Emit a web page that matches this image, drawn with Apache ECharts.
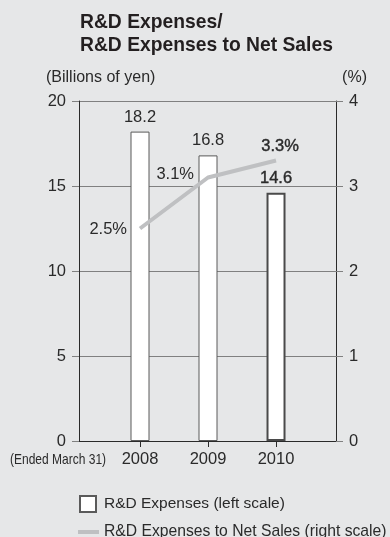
<!DOCTYPE html>
<html>
<head>
<meta charset="utf-8">
<script src="https://cdn.jsdelivr.net/npm/echarts@6/dist/echarts.min.js"></script>
<style>
html,body{margin:0;padding:0;background:#e6e7e8;}
#chart{width:390px;height:537px;}
</style>
</head>
<body>
<div id="chart"></div>
<script>
var years = [2008, 2009, 2010];
var yearLabels = ['2008', '2009', '2010'];
var rdExpenses = [18.2, 16.8, 14.6];
var rdRatio = [2.5, 3.1, 3.3];
var leftTicks = [0, 5, 10, 15, 20];
var rightTicks = [0, 1, 2, 3, 4];

var FONT = '"Liberation Sans", Arial, Helvetica, sans-serif';
var TXT = '#2a2a2a';

var barData = years.map(function (y, i) {
  var item = { value: [y, rdExpenses[i]] };
  if (i === 2) {
    item.itemStyle = { borderWidth: 2, borderColor: '#4a4a4a' };
    item.label = { show: true, textBorderColor: TXT, textBorderWidth: 0.4 };
  }
  return item;
});
var lineLabelPos = [
  { show: true, position: 'left', distance: 13, offset: [0, 1] },
  { show: true, position: 'left', distance: 14, offset: [0, -3] },
  { show: true, position: 'top', distance: 6, offset: [4, 0], textBorderColor: TXT, textBorderWidth: 0.4 }
];
var lineData = years.map(function (y, i) {
  return { value: [y, rdRatio[i]], label: lineLabelPos[i] };
});

var chart = echarts.init(document.getElementById('chart'), null, { renderer: 'canvas' });
chart.setOption({
  backgroundColor: '#e6e7e8',
  animation: false,
  textStyle: { fontFamily: FONT },
  title: {
    text: 'R&D Expenses/\nR&D Expenses to Net Sales',
    left: 80, top: 11, padding: 0,
    textStyle: { fontFamily: FONT, fontSize: 19.3, fontWeight: 'bold', color: '#231f20', lineHeight: 23 }
  },
  graphic: [
    { type: 'text', left: 46, top: 70, style: { text: '(Billions of yen)', font: '16px ' + FONT, fill: TXT } },
    { type: 'text', right: 23, top: 70, style: { text: '(%)', font: '16px ' + FONT, fill: TXT } },
    { type: 'text', x: 10, y: 452, scaleX: 0.8, style: { text: '(Ended March 31)', font: '15px ' + FONT, fill: TXT } }
  ],
  legend: [
    {
      data: [{ name: 'R&D Expenses (left scale)', icon: 'rect' }],
      left: 79, top: 495, padding: 0, itemWidth: 16, itemHeight: 16,
      textStyle: { fontSize: 15.5, color: TXT, padding: [0, 0, 0, 3] },
      selectedMode: false
    },
    {
      data: [{ name: 'R&D Expenses to Net Sales (right scale)', icon: 'rect' }],
      left: 78, top: 524, padding: 0, itemWidth: 21, itemHeight: 4,
      textStyle: { fontSize: 15.7, color: TXT },
      selectedMode: false
    }
  ],
  grid: { left: 79, right: 54, top: 101, bottom: 96, containLabel: false },
  xAxis: {
    type: 'value',
    min: 2007.103, max: 2010.882,
    splitLine: { show: false },
    axisLine: { show: true, lineStyle: { color: '#2a2a2a', width: 1 } },
    axisTick: { show: true, customValues: years, length: 6, lineStyle: { color: '#2a2a2a' } },
    axisLabel: {
      customValues: years, margin: 10,
      fontSize: 16.5, color: TXT,
      formatter: function (v) { return yearLabels[years.indexOf(Math.round(v))] || ''; }
    }
  },
  yAxis: [
    {
      type: 'value', min: 0, max: 20, interval: 5,
      axisLine: { show: true, lineStyle: { color: '#2a2a2a', width: 1 } },
      axisTick: { show: true, length: 7, lineStyle: { color: '#808080' } },
      splitLine: { show: true, lineStyle: { color: '#808080', width: 1 } },
      axisLabel: { fontSize: 16.5, color: TXT, margin: 13,
        formatter: function (v) { return leftTicks.indexOf(v) >= 0 ? String(v) : ''; } }
    },
    {
      type: 'value', min: 0, max: 4, interval: 1, position: 'right',
      axisLine: { show: true, lineStyle: { color: '#2a2a2a', width: 1 } },
      axisTick: { show: true, length: 7, lineStyle: { color: '#808080' } },
      splitLine: { show: false },
      axisLabel: { fontSize: 16.5, color: TXT, margin: 13,
        formatter: function (v) { return rightTicks.indexOf(v) >= 0 ? String(v) : ''; } }
    }
  ],
  series: [
    {
      name: 'R&D Expenses (left scale)',
      type: 'bar',
      yAxisIndex: 0,
      barWidth: 19,
      data: barData,
      itemStyle: { color: '#ffffff', borderColor: '#5a5a5a', borderWidth: 1 },
      label: { show: true, position: 'top', distance: 6, fontSize: 16.5, color: TXT,
        formatter: function (p) { return p.value[1].toFixed(1); } },
      z: 2
    },
    {
      name: 'R&D Expenses to Net Sales (right scale)',
      type: 'line',
      yAxisIndex: 1,
      data: lineData,
      symbol: 'circle',
      symbolSize: 0,
      showSymbol: true,
      lineStyle: { color: '#bfc0c2', width: 4 },
      itemStyle: { color: '#bfc0c2' },
      label: { show: true, fontSize: 16.5, color: TXT,
        formatter: function (p) { return p.value[1].toFixed(1) + '%'; } },
      z: 3
    }
  ]
});
</script>
</body>
</html>
